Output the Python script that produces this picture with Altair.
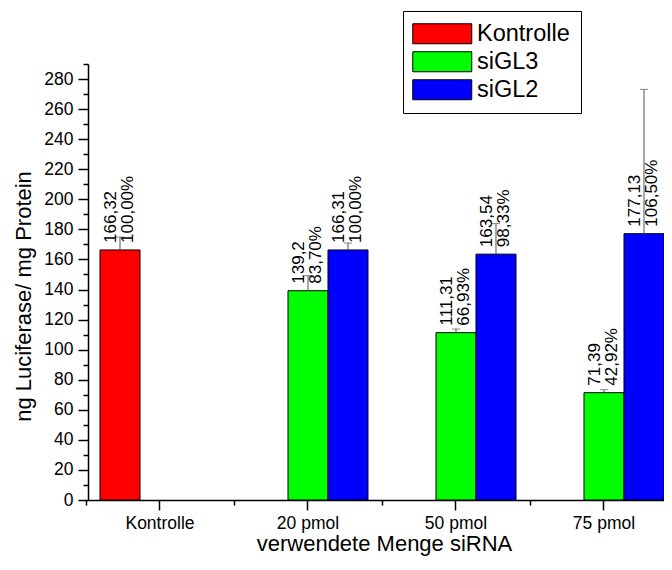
import altair as alt
import pandas as pd

kategorien = ["Kontrolle", "20 pmol", "50 pmol", "75 pmol"]
serien = ["Kontrolle", "siGL3", "siGL2"]
farben = ["#ff0000", "#00ff00", "#0000ff"]

kategorie = ["Kontrolle", "20 pmol", "20 pmol", "50 pmol", "50 pmol", "75 pmol", "75 pmol"]
serie = ["Kontrolle", "siGL3", "siGL2", "siGL3", "siGL2", "siGL3", "siGL2"]
wert = [166.32, 139.2, 166.31, 111.31, 163.54, 71.39, 177.13]
fehler = [8.6, 10.0, 4.6, 2.4, 20.3, 2.0, 96.0]
prozent = ["100,00%", "83,70%", "100,00%", "66,93%", "98,33%", "42,92%", "106,50%"]

y_major = [0, 20, 40, 60, 80, 100, 120, 140, 160, 180, 200, 220, 240, 260, 280]
y_minor = [10, 30, 50, 70, 90, 110, 130, 150, 170, 190, 210, 230, 250, 270, 290]

df = pd.DataFrame({
    "kategorie": kategorie,
    "serie": serie,
    "wert": wert,
    "fehler": fehler,
})
df["oben"] = df["wert"] + df["fehler"]
df["label"] = [str(v).replace(".", ",") + "\n" + p for v, p in zip(wert, prozent)]

FONT = "Liberation Sans"

x_scale = alt.Scale(domain=kategorien, paddingInner=0.1892, paddingOuter=0.0405, align=1)
off_scale = alt.Scale(domain=serien, paddingInner=0, paddingOuter=0)
y_scale = alt.Scale(domain=[0, 290], nice=False, zero=True)

base = alt.Chart(df)

x_main = alt.X("kategorie:N", scale=x_scale, axis=alt.Axis(
    orient="bottom", title="verwendete Menge siRNA", tickSize=10, labelPadding=4,
    titlePadding=2, labelAngle=0, titleX=296))
y_main = alt.Y("wert:Q", scale=y_scale, axis=alt.Axis(
    orient="left", values=y_major, title="ng Luciferase/ mg Protein", tickSize=10,
    labelPadding=5, titlePadding=8, titleY=232, labelOverlap=False))
x_off = alt.XOffset("serie:N", scale=off_scale)

bars = base.mark_bar(stroke="black", strokeWidth=1).encode(
    x=x_main,
    xOffset=x_off,
    y=y_main,
    color=alt.Color("serie:N", scale=alt.Scale(domain=serien, range=farben), legend=alt.Legend(
        title=None, orient="none", legendX=315, legendY=-53,
        strokeColor="black", fillColor="white", padding=11,
        symbolType="M-5.9,-2H5.9V2H-5.9Z", symbolSize=100,
        symbolOffset=16.5,
        symbolStrokeColor="black", symbolStrokeWidth=1, symbolOpacity=1,
        labelFont=FONT, labelFontSize=23.5, labelColor="black", labelOffset=23,
        rowPadding=3)),
)

err = base.mark_rule(color="#555555", strokeWidth=1).encode(
    x=alt.X("kategorie:N", scale=x_scale, axis=alt.Axis(
        orient="bottom", labels=False, domain=False, title=None, tickSize=5, tickOffset=-74)),
    xOffset=x_off,
    y=alt.Y("wert:Q", scale=y_scale, axis=alt.Axis(
        orient="left", values=y_minor, labels=False, domain=False, title=None, tickSize=5)),
    y2="oben:Q",
)

caps = base.mark_tick(color="#555555", thickness=1, size=8, orient="horizontal").encode(
    x=alt.X("kategorie:N", scale=x_scale, axis=None),
    xOffset=x_off,
    y=alt.Y("oben:Q", scale=y_scale, axis=None),
)

labels = base.mark_text(angle=270, align="left", baseline="middle", dx=7, dy=-8.5, fontSize=17,
                        lineHeight=17, lineBreak="\n", font=FONT, color="black").encode(
    x=alt.X("kategorie:N", scale=x_scale, axis=None),
    xOffset=x_off,
    y=alt.Y("wert:Q", scale=y_scale, axis=None),
    text="label:N",
)

chart = alt.layer(bars, err, caps, labels).resolve_axis(
    x="independent", y="independent"
).properties(
    width=576, height=436,
    padding={"left": 80, "top": 56, "right": 0, "bottom": 58},
    autosize=alt.AutoSizeParams(type="none"),
).configure_view(stroke=None).configure_axis(
    domainColor="black", domainWidth=1.5, tickColor="black", tickWidth=1.5,
    labelFont=FONT, labelFontSize=17.5, labelColor="black",
    titleFont=FONT, titleFontSize=22, titleFontWeight="normal", titleColor="black",
    grid=False,
)

chart.save("out.html", embed_options={"renderer": "svg", "actions": False})
